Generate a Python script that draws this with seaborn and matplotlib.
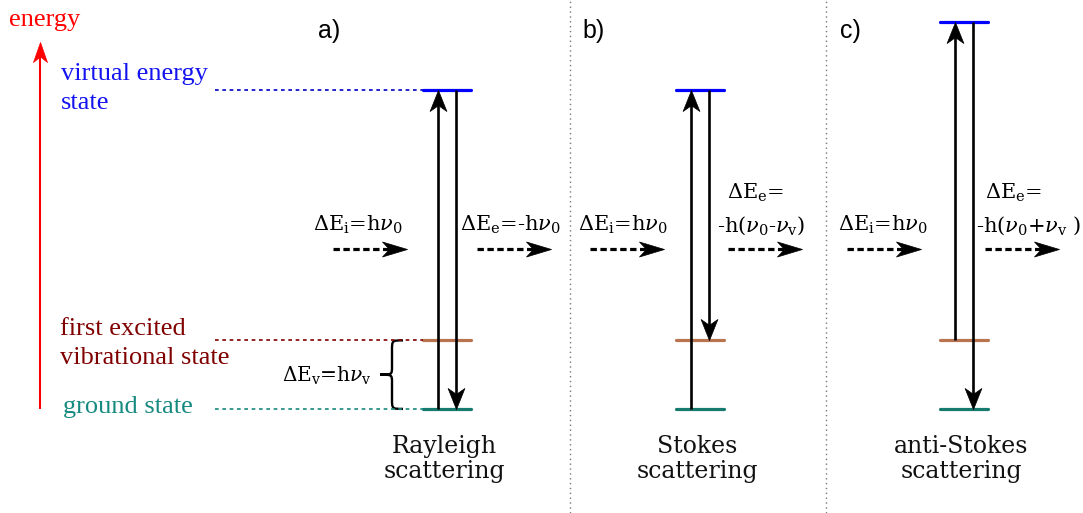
import numpy as np
import pandas as pd
import matplotlib
matplotlib.use("Agg")
import matplotlib.pyplot as plt
import seaborn as sns
from matplotlib.path import Path
from matplotlib.patches import PathPatch

# ---------------- data ----------------
processes = ["Rayleigh", "Stokes", "anti-Stokes"]
panel_labels = ["a)", "b)", "c)"]
scatter_titles = [["Rayleigh", "scattering"], ["Stokes", "scattering"], ["anti-Stokes", "scattering"]]
level_keys = ["ground", "vib", "virtual"]
level_names = [["ground state"], ["first excited", "vibrational state"], ["virtual energy", "state"]]
E_ground = 0.0          # ground state energy
E_vib = 1.0             # first excited vibrational state (units of h*nu_v)
h_nu0 = 4.65            # incident photon energy (units of h*nu_v)
initial_level = [0.0, 0.0, 1.0]
final_level = [0.0, 1.0, 0.0]
incident_labels = [[r"$\Delta$E$_{\rm i}$=h$\nu_0$"]] * 3
emitted_labels = [[r"$\Delta$E$_{\rm e}$=-h$\nu_0$"],
                  [r"$\Delta$E$_{\rm e}$=", r"-h($\nu_0$-$\nu_{\rm v}$)"],
                  [r"$\Delta$E$_{\rm e}$=", r"-h($\nu_0$+$\nu_{\rm v}$ )"]]
vib_gap_label = r"$\Delta$E$_{\rm v}$=h$\nu_{\rm v}$"

# ---------------- style ----------------
sns.set_theme(style="white")
plt.rcParams["mathtext.fontset"] = "dejavuserif"
plt.rcParams["font.family"] = ["DejaVu Serif", "DejaVu Sans"]

line_colors = {"ground": "#167a6e", "vib": "#b8734f", "virtual": "#0000ff"}
text_colors = {"ground": "#178a80", "vib": "#800000", "virtual": "#1414f0"}
guide_colors = {"ground": "#178a80", "vib": "#800000", "virtual": "#0000c8"}
energy_color = "#ff0000"

W, H = 1083, 513
fig = plt.figure(figsize=(W / 100, H / 100), dpi=100)
fig.patch.set_facecolor("white")
ax = fig.add_axes([0, 0, 1, 1])
E_lim = (-1.52, 5.97)
px_per_E = H / (E_lim[1] - E_lim[0])

col_center = [447, 700, 964]
half_w = 24
arrow_dx = 9
guide_x = (215, 423)

# ---------------- levels (seaborn) ----------------
rows = []
E_virtual = [e + h_nu0 for e in initial_level]
for i, p in enumerate(processes):
    energies = {"ground": E_ground, "vib": E_vib, "virtual": E_virtual[i]}
    for k in level_keys:
        for sx in (-1, 1):
            rows.append(dict(process=p, level=k, seg=p + k,
                             x=col_center[i] + sx * half_w, E=energies[k]))
df = pd.DataFrame(rows)
sns.lineplot(data=df, x="x", y="E", hue="level", units="seg", estimator=None,
             palette=line_colors, lw=2.3, legend=False, ax=ax, sort=False)
ax.set_xlim(0, W)
ax.set_ylim(*E_lim)
ax.set_axis_off()

# dotted guides from labels to Rayleigh levels
for k, e in zip(level_keys, [E_ground, E_vib, E_virtual[0]]):
    ax.plot(guide_x, [e, e], color=guide_colors[k], lw=1.2, ls=(0, (2.2, 2.2)))


def head_marker(direction, hw=0.4, notch=0.72):
    if direction == "up":
        v = [(0, 0), (-hw, -1), (0, -notch), (hw, -1), (0, 0)]
    elif direction == "down":
        v = [(0, 0), (-hw, 1), (0, notch), (hw, 1), (0, 0)]
    else:
        v = [(0, 0), (-1, hw), (-notch, 0), (-1, -hw), (0, 0)]
    return Path(v, [Path.MOVETO, Path.LINETO, Path.LINETO, Path.LINETO, Path.CLOSEPOLY])


def v_arrow(x, e0, e1, color="black", lw=1.9, head_px=21, hw=0.4):
    d = np.sign(e1 - e0)
    back = (head_px * 0.6) / px_per_E
    ax.plot([x, x], [e0, e1 - d * back], color=color, lw=lw, solid_capstyle="butt")
    ax.plot([x], [e1], marker=head_marker("up" if d > 0 else "down", hw),
            ms=2 * head_px * 0.72, color=color, mec=color, mew=0.5, ls="none")


for i in range(3):
    v_arrow(col_center[i] - arrow_dx, initial_level[i], E_virtual[i])
    v_arrow(col_center[i] + arrow_dx, E_virtual[i], final_level[i])

# energy axis arrow
v_arrow(40, E_ground, (409 - 42) / px_per_E, color=energy_color, lw=1.5, head_px=20, hw=0.35)

# curly brace for vibrational gap
xr, xm, xl = 403, 392, 380
r = 10 / px_per_E
emid = (E_ground + E_vib) / 2
bv = [(xr, E_vib), (xm, E_vib), (xm, E_vib), (xm, E_vib - r),
      (xm, emid + r * 0.8),
      (xm, emid), (xm, emid), (xl, emid),
      (xm, emid), (xm, emid), (xm, emid - r * 0.8),
      (xm, E_ground + r),
      (xm, E_ground), (xm, E_ground), (xr, E_ground)]
bc = [Path.MOVETO, Path.CURVE4, Path.CURVE4, Path.CURVE4, Path.LINETO,
      Path.CURVE4, Path.CURVE4, Path.CURVE4, Path.CURVE4, Path.CURVE4, Path.CURVE4,
      Path.LINETO, Path.CURVE4, Path.CURVE4, Path.CURVE4]
ax.add_patch(PathPatch(Path(bv, bc), fc="none", ec="black", lw=1.7))

# separators
for xs in (570, 826):
    ax.axvline(xs, color="#777777", lw=1.0, ls=(0, (1, 2.5)))

# ---------------- overlay for text and photons (pixel coords) ----------------
ov = fig.add_axes([0, 0, 1, 1])
ov.set_xlim(0, W)
ov.set_ylim(H, 0)
ov.set_axis_off()
ov.patch.set_alpha(0)

serif_lbl = "Liberation Serif"
ov.text(9, 26, "energy", color=energy_color, family=serif_lbl, fontsize=19, va="baseline")
label_pos = {"virtual": (61, 80), "vib": (60, 335), "ground": (63, 413)}
for k, names in zip(level_keys, level_names):
    x0, y0 = label_pos[k]
    for j, line in enumerate(names):
        ov.text(x0, y0 + 29 * j, line, color=text_colors[k], family=serif_lbl,
                fontsize=19, va="baseline")

panel_x = [318, 582, 840]
for lab, x0 in zip(panel_labels, panel_x):
    ov.text(x0, 38, lab, family="Liberation Sans", fontsize=18, va="baseline", color="black")

for i, lines in enumerate(scatter_titles):
    for j, line in enumerate(lines):
        ov.text(col_center[i] - 3, 453 + 25 * j, line, ha="center", va="baseline",
                fontsize=17, color="#111111")

ov.text(282, 382, vib_gap_label, ha="left", va="baseline", fontsize=14.5, color="black")

# photon arrows
in_x0 = [333, 590, 847]
out_x0 = [477, 728, 985]
ph_len = 74
ph_y = 249


def h_arrow(x0):
    ov.plot([x0, x0 + ph_len - 13], [ph_y, ph_y], color="black", lw=2.3,
            ls=(0, (2.0, 1.1)), solid_capstyle="butt", dash_capstyle="butt")
    ov.plot([x0 + ph_len], [ph_y], marker=head_marker("right", 0.3), ms=2 * 25 * 0.72,
            color="black", ls="none", mew=0.5)


inc_left = [313, 578, 838]
em_left = [[460], [727, 717], [985, 976]]
for i in range(3):
    h_arrow(in_x0[i])
    h_arrow(out_x0[i])
    ov.text(inc_left[i], 231, incident_labels[i][0], ha="left", va="baseline",
            fontsize=15, color="black")
    em = emitted_labels[i]
    if len(em) == 1:
        ov.text(em_left[i][0], 231, em[0], ha="left", va="baseline", fontsize=15, color="black")
    else:
        ov.text(em_left[i][0], 199, em[0], ha="left", va="baseline", fontsize=15, color="black")
        ov.text(em_left[i][1], 232, em[1], ha="left", va="baseline", fontsize=15, color="black")

fig.savefig("out.png", dpi=100, facecolor="white")
